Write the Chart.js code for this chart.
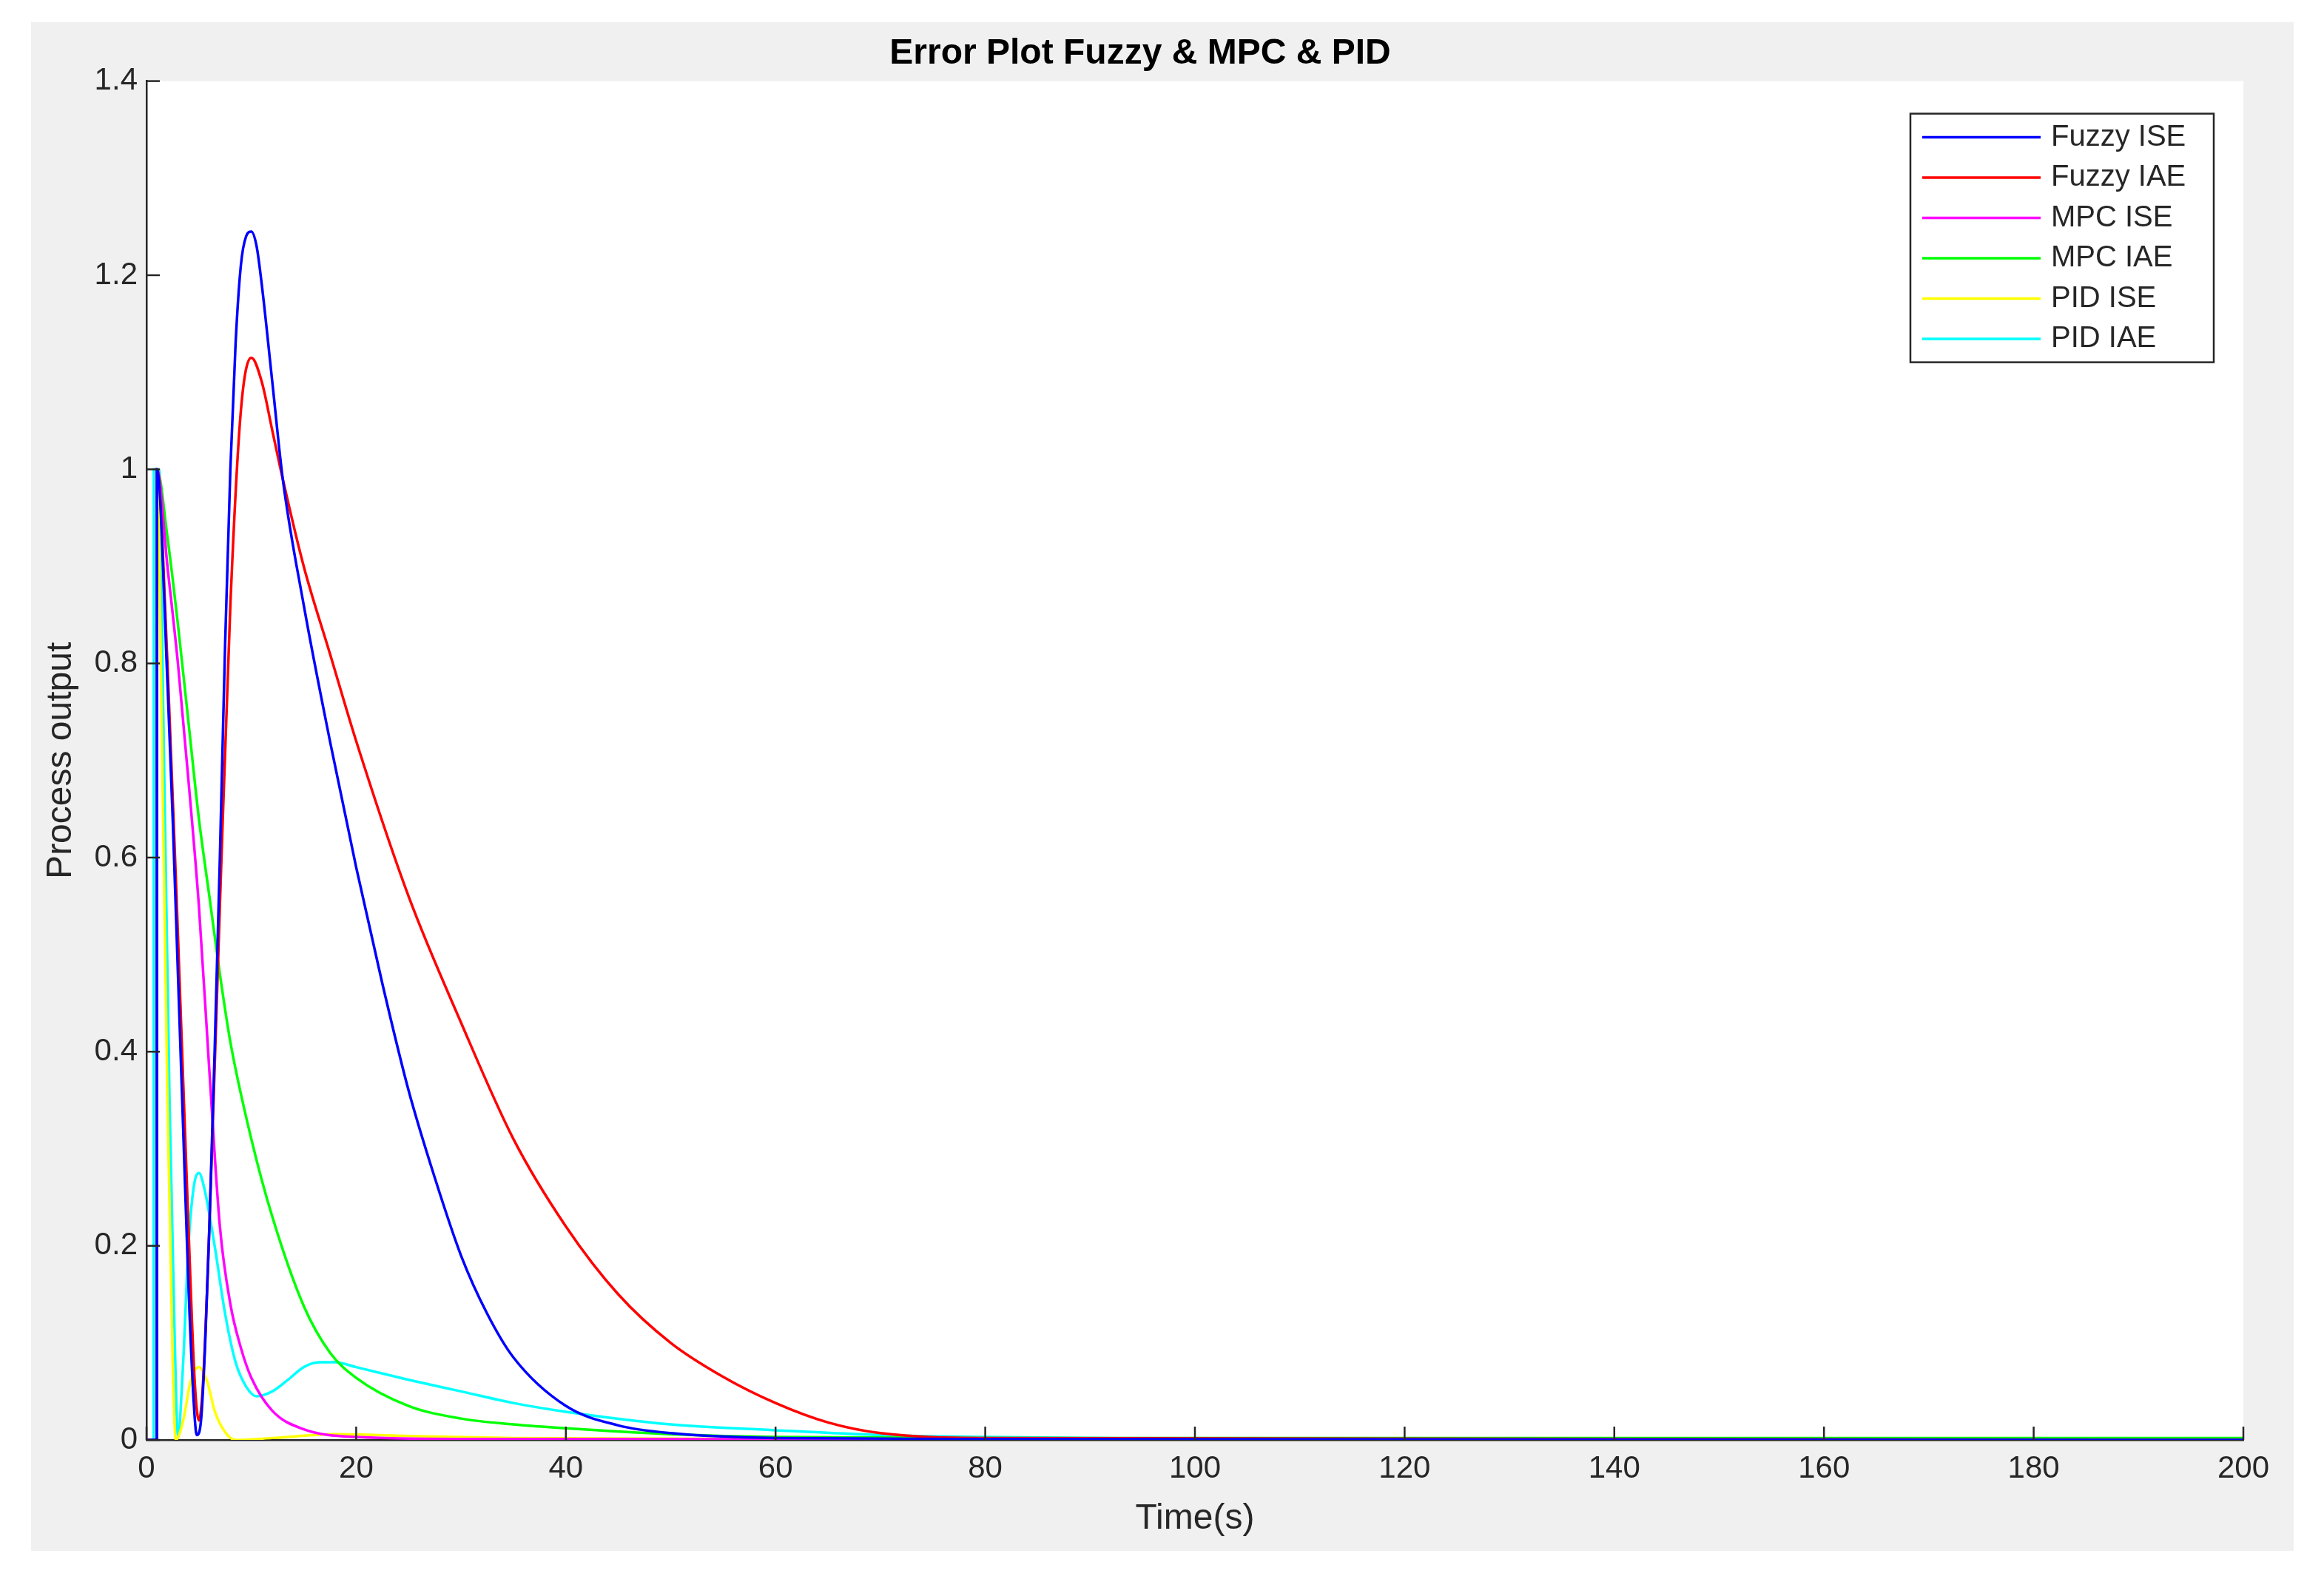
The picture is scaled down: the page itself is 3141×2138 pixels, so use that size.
<!DOCTYPE html>
<html><head><meta charset="utf-8">
<script src="https://cdn.jsdelivr.net/npm/chart.js@4"></script>
<style>
body{margin:0;background:#fff;width:3141px;height:2138px;overflow:hidden}
#wrap{position:absolute;left:42px;top:30px;width:3058px;height:2066px;background:#f0f0f0}
</style></head><body>
<div id="wrap"><canvas id="c" width="3058" height="2066"></canvas></div>
<script>
const title = "Error Plot Fuzzy & MPC & PID";
const xTitle = "Time(s)";
const yTitle = "Process output";
const xTicks = [0,20,40,60,80,100,120,140,160,180,200];
const yTicks = [0,0.2,0.4,0.6,0.8,1,1.2,1.4];
const seriesNames = ["Fuzzy ISE","Fuzzy IAE","MPC ISE","MPC IAE","PID ISE","PID IAE"];
const seriesColors = ["#0000ff","#ff0000","#ff00ff","#00ff00","#ffff00","#00ffff"];
const fuzzyISE = [[0,0],[0.99,0],[1,1],[2,0.78],[2.5,0.64],[3,0.48],[3.5,0.32],[4,0.16],[4.5,0.04],[4.8,0.005],[5.2,0.02],[5.6,0.1],[6,0.22],[6.5,0.4],[7,0.6],[7.5,0.82],[8,1.0],[8.5,1.13],[9,1.21],[9.5,1.24],[10,1.245],[10.5,1.23],[11,1.19],[12,1.09],[13,0.99],[15,0.86],[17.5,0.72],[20,0.59],[22.5,0.47],[25,0.36],[27.5,0.27],[30,0.19],[32.5,0.13],[35,0.085],[40,0.035],[45,0.015],[50,0.007],[60,0.002],[80,0.001],[200,0]];
const fuzzyIAE = [[0,0],[0.99,0],[1,1],[2,0.8],[3,0.52],[4,0.22],[4.6,0.06],[5,0.02],[5.4,0.06],[6,0.22],[7,0.55],[8,0.86],[9,1.06],[10,1.115],[11,1.09],[12,1.04],[13,0.99],[15,0.9],[17.5,0.81],[20,0.72],[25,0.56],[30,0.43],[35,0.31],[40,0.22],[45,0.15],[50,0.1],[55,0.065],[60,0.038],[65,0.018],[70,0.007],[80,0.002],[200,0]];
const mpcISE = [[0,0],[0.99,0],[1,1],[2,0.9],[3,0.8],[4,0.68],[5,0.55],[6,0.38],[7,0.22],[8,0.14],[9,0.095],[10,0.064],[12,0.03],[15,0.011],[20,0.003],[30,0.001],[200,0]];
const mpcIAE = [[0,0],[0.99,0],[1,1],[2,0.93],[3,0.84],[4,0.74],[5,0.64],[6,0.56],[7,0.48],[8,0.41],[10,0.31],[12,0.23],[15,0.138],[17.5,0.09],[20,0.064],[25,0.035],[30,0.022],[35,0.016],[40,0.012],[50,0.006],[60,0.003],[80,0.002],[200,0.002]];
const pidISE = [[0,0],[0.99,0],[1,1],[1.5,0.7],[2,0.35],[2.5,0.08],[2.8,0],[3.5,0.02],[4.2,0.06],[5,0.075],[5.8,0.06],[6.5,0.03],[7.5,0.008],[8.5,0],[12,0.002],[18,0.006],[25,0.004],[35,0.002],[60,0.001],[200,0]];
const pidIAE = [[0,0],[0.69,0],[0.7,1],[1.2,1],[1.6,0.75],[2.2,0.35],[2.7,0.1],[3,0.005],[3.5,0.08],[4,0.2],[4.5,0.26],[5,0.275],[5.5,0.26],[6.5,0.2],[7.5,0.13],[8.5,0.08],[9.5,0.055],[10.5,0.045],[12,0.05],[13.5,0.062],[15,0.075],[16.5,0.08],[18,0.08],[20,0.075],[25,0.062],[30,0.05],[35,0.038],[40,0.029],[50,0.016],[60,0.01],[70,0.005],[80,0.003],[100,0.001],[200,0]];
const seriesData = [fuzzyISE,fuzzyIAE,mpcISE,mpcIAE,pidISE,pidIAE];

const bgPlugin = {
  id:'bg',
  beforeDraw(ch){const a=ch.chartArea,c=ch.ctx;c.save();c.fillStyle='#fff';c.fillRect(a.left,a.top,a.right-a.left,a.bottom-a.top);c.restore();},
  afterDraw(ch){
    const c=ch.ctx,a=ch.chartArea,xs=ch.scales.x,ys=ch.scales.y;
    c.save();c.strokeStyle='#262626';c.lineWidth=2.5;
    xTicks.forEach(v=>{const p=xs.getPixelForValue(v);c.beginPath();c.moveTo(p,a.bottom);c.lineTo(p,a.bottom-18);c.stroke();});
    yTicks.forEach(v=>{const p=ys.getPixelForValue(v);c.beginPath();c.moveTo(a.left,p);c.lineTo(a.left+18,p);c.stroke();});
    const lx=a.right-450, ly=a.top+44, w=410, h=336;
    c.fillStyle='#fff';c.fillRect(lx,ly,w,h);
    c.strokeStyle='#262626';c.lineWidth=2.5;c.strokeRect(lx,ly,w,h);
    c.font='40px "Liberation Sans", Arial, sans-serif';c.textBaseline='middle';
    seriesNames.forEach((n,i)=>{const y=ly+32+i*54.5;
      c.strokeStyle=seriesColors[i];c.lineWidth=3.5;c.beginPath();c.moveTo(lx+16,y);c.lineTo(lx+176,y);c.stroke();
      c.fillStyle='#262626';c.fillText(n,lx+190,y);});
    c.restore();
  }
};

new Chart(document.getElementById('c'),{
  type:'line',
  data:{datasets:seriesNames.map((n,i)=>({label:n,data:seriesData[i].map(p=>({x:p[0],y:p[1]})),borderColor:seriesColors[i],borderWidth:3.5,pointRadius:0,cubicInterpolationMode:'monotone',fill:false}))},
  plugins:[bgPlugin],
  options:{
    responsive:false,animation:false,devicePixelRatio:1,
    layout:{padding:{left:8,right:68,top:10,bottom:10}},
    plugins:{legend:{display:false},tooltip:{enabled:false},
      title:{display:true,text:title,color:'#000',font:{family:'"Liberation Sans", Arial, sans-serif',size:48,weight:'bold'},padding:{top:4,bottom:8}}},
    scales:{
      x:{type:'linear',min:0,max:200,afterBuildTicks(s){s.ticks=xTicks.map(v=>({value:v}));},
        grid:{display:false,drawTicks:false},border:{display:true,color:'#262626',width:2.5},
        ticks:{color:'#262626',padding:14,font:{family:'"Liberation Sans", Arial, sans-serif',size:42}},
        title:{display:true,text:xTitle,color:'#262626',padding:{top:0},font:{family:'"Liberation Sans", Arial, sans-serif',size:48}}},
      y:{type:'linear',min:0,max:1.4,afterBuildTicks(s){s.ticks=yTicks.map(v=>({value:v}));},
        grid:{display:false,drawTicks:false},border:{display:true,color:'#262626',width:2.5},
        ticks:{color:'#262626',padding:12,font:{family:'"Liberation Sans", Arial, sans-serif',size:42},callback:v=>String(+v.toFixed(1))},
        title:{display:true,text:yTitle,color:'#262626',padding:{bottom:4},font:{family:'"Liberation Sans", Arial, sans-serif',size:48}}}
    }
  }
});
</script></body></html>
